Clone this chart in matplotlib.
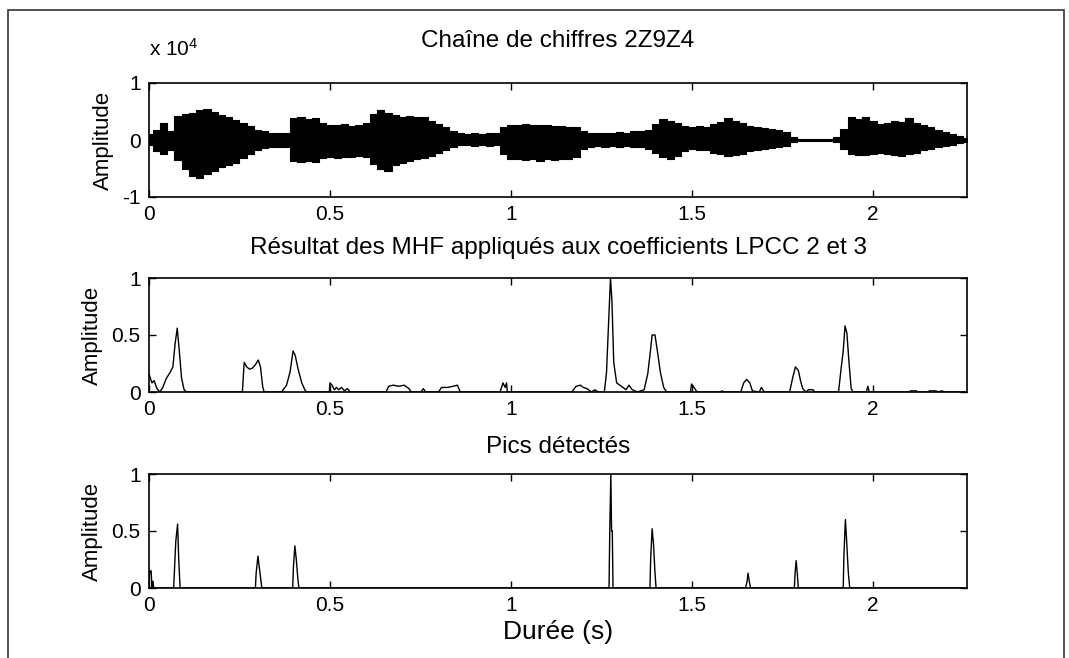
import numpy as np
import matplotlib.pyplot as plt
from matplotlib.patches import Rectangle

plt.rcParams['font.family'] = ['Liberation Sans', 'DejaVu Sans']
plt.rcParams['mathtext.default'] = 'regular'

# speech signal envelope (x 10^4), sampled every 20 ms
env_t = np.round(np.arange(0, 2.261, 0.02), 2)
env_hi = [0.10, 0.18, 0.30, 0.16, 0.42, 0.46, 0.48, 0.52, 0.55, 0.50,
          0.44, 0.40, 0.35, 0.30, 0.24, 0.18, 0.15, 0.13, 0.12, 0.13,
          0.38, 0.40, 0.37, 0.39, 0.30, 0.27, 0.26, 0.28, 0.25, 0.27,
          0.30, 0.45, 0.53, 0.47, 0.43, 0.40, 0.42, 0.40, 0.41, 0.33,
          0.28, 0.22, 0.15, 0.12, 0.11, 0.12, 0.11, 0.12, 0.12, 0.22,
          0.27, 0.26, 0.28, 0.26, 0.27, 0.26, 0.25, 0.24, 0.23, 0.22,
          0.15, 0.13, 0.12, 0.13, 0.12, 0.14, 0.13, 0.15, 0.16, 0.18,
          0.28, 0.36, 0.33, 0.30, 0.24, 0.22, 0.24, 0.22, 0.28, 0.32,
          0.38, 0.33, 0.30, 0.25, 0.22, 0.21, 0.19, 0.17, 0.14, 0.05,
          0.01, 0.01, 0.01, 0.01, 0.01, 0.05, 0.20, 0.40, 0.37, 0.40,
          0.34, 0.28, 0.30, 0.33, 0.31, 0.38, 0.30, 0.26, 0.22, 0.18,
          0.14, 0.10, 0.07, 0.04]
env_lo = [-0.08, -0.20, -0.25, -0.18, -0.35, -0.50, -0.63, -0.66, -0.60, -0.55,
          -0.48, -0.44, -0.40, -0.32, -0.25, -0.17, -0.14, -0.13, -0.12, -0.12,
          -0.36, -0.38, -0.37, -0.39, -0.32, -0.30, -0.31, -0.29, -0.30, -0.28,
          -0.30, -0.42, -0.50, -0.55, -0.44, -0.40, -0.36, -0.33, -0.32, -0.28,
          -0.22, -0.18, -0.12, -0.09, -0.09, -0.10, -0.09, -0.10, -0.09, -0.25,
          -0.34, -0.33, -0.35, -0.34, -0.36, -0.34, -0.35, -0.33, -0.34, -0.30,
          -0.15, -0.12, -0.11, -0.12, -0.11, -0.12, -0.11, -0.13, -0.13, -0.15,
          -0.22, -0.30, -0.33, -0.28, -0.20, -0.16, -0.17, -0.18, -0.22, -0.24,
          -0.28, -0.27, -0.24, -0.20, -0.17, -0.16, -0.14, -0.12, -0.10, -0.04,
          -0.01, -0.01, -0.01, -0.01, -0.01, -0.04, -0.15, -0.25, -0.27, -0.26,
          -0.24, -0.22, -0.24, -0.26, -0.28, -0.25, -0.22, -0.18, -0.15, -0.13,
          -0.10, -0.08, -0.05, -0.03]

# MHF output on LPCC 2 and 3
mhf_t = [0.000, 0.008, 0.014, 0.022, 0.030,
         0.038, 0.048, 0.058, 0.066, 0.072, 0.078, 0.084, 0.090, 0.097, 0.104,
         0.258, 0.263, 0.270, 0.278, 0.286, 0.294, 0.302, 0.308, 0.314, 0.318,
         0.366, 0.380, 0.390, 0.398, 0.404, 0.412, 0.422, 0.432, 0.438,
         0.498, 0.500, 0.506, 0.512, 0.518, 0.524, 0.532, 0.540, 0.548, 0.556,
         0.655, 0.662, 0.675, 0.690, 0.705, 0.718, 0.725, 0.752, 0.758, 0.764,
         0.800, 0.808, 0.825, 0.840, 0.852, 0.860,
         0.970, 0.978, 0.984, 0.988, 0.990,
         1.168, 1.180, 1.192, 1.200, 1.210, 1.222, 1.232, 1.240,
         1.258, 1.264, 1.270, 1.275, 1.279, 1.284, 1.292, 1.305, 1.318, 1.326, 1.335, 1.350,
         1.368, 1.378, 1.385, 1.390, 1.398, 1.405, 1.413, 1.422, 1.430,
         1.496, 1.499, 1.506, 1.514, 1.578, 1.583, 1.588,
         1.635, 1.643, 1.651, 1.660, 1.667, 1.686, 1.692, 1.700,
         1.770, 1.778, 1.786, 1.794, 1.800, 1.806, 1.815, 1.822, 1.834, 1.840,
         1.905, 1.912, 1.918, 1.923, 1.928, 1.934, 1.940, 1.945,
         1.982, 1.986, 1.990, 2.100, 2.104, 2.120, 2.124, 2.152, 2.156, 2.175, 2.180,
         2.190, 2.200, 2.260]
mhf_v = [0.16, 0.08, 0.10, 0.03, 0.00,
         0.04, 0.12, 0.17, 0.22, 0.42, 0.56, 0.35, 0.12, 0.02, 0.00,
         0.00, 0.26, 0.22, 0.20, 0.21, 0.24, 0.28, 0.22, 0.05, 0.00,
         0.00, 0.06, 0.18, 0.36, 0.32, 0.20, 0.08, 0.01, 0.00,
         0.00, 0.08, 0.06, 0.02, 0.04, 0.02, 0.04, 0.01, 0.03, 0.00,
         0.00, 0.05, 0.06, 0.05, 0.06, 0.03, 0.00, 0.00, 0.03, 0.00,
         0.00, 0.04, 0.04, 0.05, 0.06, 0.00,
         0.00, 0.08, 0.04, 0.08, 0.00,
         0.00, 0.05, 0.06, 0.04, 0.03, 0.00, 0.02, 0.00,
         0.00, 0.17, 0.62, 1.00, 0.80, 0.26, 0.08, 0.05, 0.02, 0.06, 0.02, 0.00,
         0.02, 0.16, 0.35, 0.50, 0.50, 0.35, 0.17, 0.04, 0.00,
         0.00, 0.07, 0.04, 0.00, 0.00, 0.01, 0.00,
         0.00, 0.08, 0.11, 0.08, 0.01, 0.00, 0.04, 0.00,
         0.00, 0.12, 0.22, 0.19, 0.10, 0.03, 0.00, 0.02, 0.02, 0.00,
         0.00, 0.20, 0.36, 0.58, 0.52, 0.26, 0.03, 0.00,
         0.00, 0.05, 0.00, 0.00, 0.01, 0.01, 0.00, 0.00, 0.01, 0.01, 0.00,
         0.01, 0.00, 0.00]

# detected peaks
pk_t = [0.000, 0.002, 0.006, 0.008, 0.011, 0.013,
        0.068, 0.070, 0.074, 0.079, 0.082, 0.086,
        0.294, 0.296, 0.301, 0.304, 0.309, 0.312,
        0.397, 0.399, 0.403, 0.407, 0.411, 0.414,
        1.271, 1.273, 1.276, 1.278, 1.280, 1.282,
        1.384, 1.386, 1.390, 1.394, 1.398, 1.401,
        1.648, 1.652, 1.655, 1.659, 1.662,
        1.783, 1.785, 1.788, 1.791, 1.794,
        1.918, 1.920, 1.924, 1.927, 1.932, 1.936,
        2.260]
pk_v = [0.00, 0.15, 0.15, 0.00, 0.06, 0.00,
        0.00, 0.13, 0.41, 0.56, 0.26, 0.00,
        0.00, 0.13, 0.28, 0.20, 0.07, 0.00,
        0.00, 0.18, 0.37, 0.25, 0.09, 0.00,
        0.00, 0.50, 1.00, 0.50, 0.50, 0.00,
        0.00, 0.25, 0.52, 0.38, 0.13, 0.00,
        0.00, 0.05, 0.13, 0.05, 0.00,
        0.00, 0.13, 0.24, 0.13, 0.00,
        0.00, 0.29, 0.60, 0.44, 0.14, 0.00,
        0.00]

titles = ['Chaîne de chiffres 2Z9Z4',
          'Résultat des MHF appliqués aux coefficients LPCC 2 et 3',
          'Pics détectés']
xticks = [0, 0.5, 1, 1.5, 2]
xticklabels = ['0', '0.5', '1', '1.5', '2']

W, H = 1069, 658
fig = plt.figure(figsize=(W / 100, H / 100), dpi=100)
fig.patch.set_facecolor('white')

boxes = [(149, 83, 967, 197), (149, 278, 967, 392), (149, 474, 967, 588)]
axes = []
for (x0, y0, x1, y1) in boxes:
    ax = fig.add_axes([x0 / W, 1 - y1 / H, (x1 - x0) / W, (y1 - y0) / H])
    axes.append(ax)

ax1, ax2, ax3 = axes
ax1.fill_between(env_t, env_lo, env_hi, step='mid', color='black', lw=0.8)
ax1.set_ylim(-1, 1)
ax1.set_yticks([-1, 0, 1])
ax1.set_yticklabels(['-1', '0', '1'])
ax1.text(0.0, 1.2, 'x 10$^4$', transform=ax1.transAxes, fontsize=15,
         ha='left', va='bottom')

ax2.plot(mhf_t, mhf_v, color='black', lw=1.0)
ax3.plot(pk_t, pk_v, color='black', lw=1.0)
for ax in (ax2, ax3):
    ax.set_ylim(0, 1)
    ax.set_yticks([0, 0.5, 1])
    ax.set_yticklabels(['0', '0.5', '1'])

pads = [26, 17, 15]
for ax, title, pad in zip(axes, titles, pads):
    ax.set_xlim(0, 2.26)
    ax.set_xticks(xticks)
    ax.set_xticklabels(xticklabels)
    ax.set_title(title, fontsize=17.5, pad=pad)
    ax.set_ylabel('Amplitude', fontsize=16, labelpad=6)
    ax.tick_params(direction='in', length=5, width=1, top=True, right=True,
                   labelsize=15, pad=6, color='black')
    for s in ax.spines.values():
        s.set_linewidth(1.2)

ax3.set_xlabel('Durée (s)', fontsize=19, labelpad=3)

# outer frame of the figure
fig.patches.append(Rectangle((8 / W, -0.05), (1064 - 8) / W, 1.05 - 10 / H,
                             transform=fig.transFigure, fill=False,
                             edgecolor='#333333', lw=1.2))

fig.savefig('out.png', dpi=100)
